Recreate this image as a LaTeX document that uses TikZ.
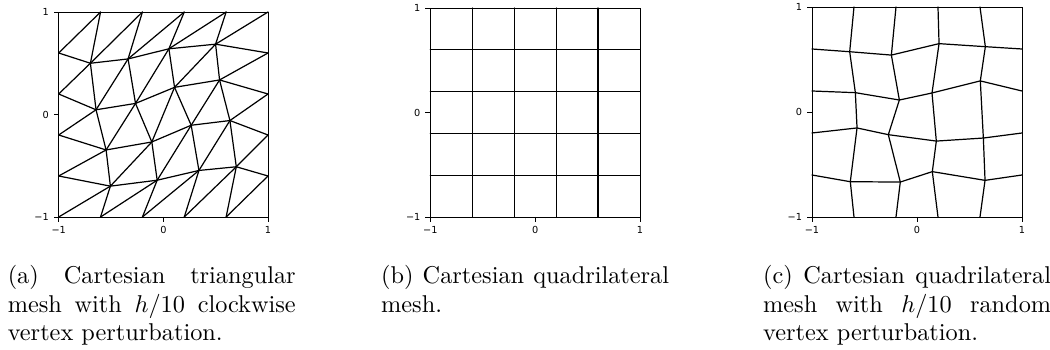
\documentclass[tikz,border=0pt]{standalone}
\usepackage{fontspec}
\newfontfamily\tickfont{DejaVu Sans}
\tolerance=10000 \pretolerance=10000 \hbadness=10000
\newcommand{\axesticks}{%
  \foreach \v/\t in {-1/−1,0/0,1/1} {
    \draw[tickline] (-1,\v) -- ++(-2.06pt,0pt);
    \node[ticklab, anchor=east, xshift=-3.9pt] at (-1,\v) {\t};
    \draw[tickline] (\v,-1) -- ++(0pt,-2.06pt);
    \node[ticklab, anchor=north, yshift=-3.5pt] at (\v,-1) {\t};
  }}
\begin{document}
\begin{tikzpicture}[x=0.41152pt,y=-0.41152pt,
  mesh/.style={line width=0.5pt, black, line join=round, line cap=round},
  frame/.style={line width=0.4pt, black},
  tickline/.style={line width=0.4pt, black},
  ticklab/.style={font=\tickfont\fontsize{4pt}{5pt}\selectfont, inner sep=0pt},
  capbox/.style={text width=118.5pt, align=justify, inner sep=0pt, anchor=north west,
    font=\fontsize{10pt}{11.7pt}\selectfont}]
\useasboundingbox (0,0) rectangle (1050,350);

% ---------- panel (a) ----------
\begin{scope}[shift={(163.35,114.5)}, x={(43.07pt,0pt)}, y={(0pt,42.18pt)}]
  \foreach \i/\x in {0/-1,1/-0.6,2/-0.2,3/0.2,4/0.6,5/1} {
    \coordinate (a\i0) at (\x,-1); \coordinate (a\i5) at (\x,1); }
  \foreach \j/\y in {1/-0.6,2/-0.2,3/0.2,4/0.6} {
    \coordinate (a0\j) at (-1,\y); \coordinate (a5\j) at (1,\y); }
  \coordinate (a14) at (-0.697,0.500); \coordinate (a24) at (-0.337,0.542);
  \coordinate (a34) at (0.053,0.641);  \coordinate (a44) at (0.499,0.686);
  \coordinate (a13) at (-0.643,0.046); \coordinate (a23) at (-0.266,0.108);
  \coordinate (a33) at (0.107,0.265);  \coordinate (a43) at (0.537,0.337);
  \coordinate (a12) at (-0.547,-0.346); \coordinate (a22) at (-0.110,-0.268);
  \coordinate (a32) at (0.266,-0.105);  \coordinate (a42) at (0.636,-0.059);
  \coordinate (a11) at (-0.506,-0.699); \coordinate (a21) at (-0.059,-0.641);
  \coordinate (a31) at (0.340,-0.546);  \coordinate (a41) at (0.697,-0.510);
  \foreach \j in {1,...,4} \draw[mesh] (a0\j) -- (a1\j) -- (a2\j) -- (a3\j) -- (a4\j) -- (a5\j);
  \foreach \i in {1,...,4} \draw[mesh] (a\i0) -- (a\i1) -- (a\i2) -- (a\i3) -- (a\i4) -- (a\i5);
  \foreach \i in {0,...,4} \foreach \j in {0,...,4} {
    \pgfmathtruncatemacro\ii{\i+1}\pgfmathtruncatemacro\jj{\j+1}
    \draw[mesh] (a\i\j) -- (a\ii\jj); }
  \draw[frame] (a00) rectangle (a55);
  \axesticks
\end{scope}

% ---------- panel (b) ----------
\begin{scope}[shift={(535.15,112.5)}, x={(43.15pt,0pt)}, y={(0pt,43.0pt)}]
  \foreach \i/\x in {0/-1,1/-0.6,2/-0.2,3/0.2,4/0.6,5/1} {
    \coordinate (b\i0) at (\x,-1); \coordinate (b\i5) at (\x,1); }
  \foreach \j/\y in {1/-0.6,2/-0.2,3/0.2,4/0.6} {
    \coordinate (b0\j) at (-1,\y); \coordinate (b5\j) at (1,\y); }
  \foreach \j in {1,...,4} \draw[mesh] (b0\j) -- (b5\j);
  \foreach \i in {1,...,4} \draw[mesh] (b\i0) -- (b\i5);
  \draw[frame] (b00) rectangle (b55);
  \axesticks
\end{scope}

% ---------- panel (c) ----------
\begin{scope}[shift={(917,112)}, x={(43.21pt,0pt)}, y={(0pt,43.21pt)}]
  \foreach \i/\x in {0/-1,1/-0.6,2/-0.2,3/0.2,4/0.6,5/1} {
    \coordinate (c\i0) at (\x,-1); \coordinate (c\i5) at (\x,1); }
  \foreach \j/\y in {1/-0.6,2/-0.2,3/0.2,4/0.6} {
    \coordinate (c0\j) at (-1,\y); \coordinate (c5\j) at (1,\y); }
  \coordinate (c14) at (-0.641,0.574); \coordinate (c24) at (-0.244,0.542);
  \coordinate (c34) at (0.210,0.651);  \coordinate (c44) at (0.651,0.622);
  \coordinate (c13) at (-0.587,0.184); \coordinate (c23) at (-0.168,0.114);
  \coordinate (c33) at (0.143,0.181);  \coordinate (c43) at (0.603,0.296);
  \coordinate (c12) at (-0.571,-0.152); \coordinate (c22) at (-0.273,-0.216);
  \coordinate (c32) at (0.184,-0.277);  \coordinate (c42) at (0.632,-0.248);
  \coordinate (c11) at (-0.635,-0.664); \coordinate (c21) at (-0.159,-0.667);
  \coordinate (c31) at (0.146,-0.568);  \coordinate (c41) at (0.648,-0.651);
  \foreach \j in {1,...,4} \draw[mesh] (c0\j) -- (c1\j) -- (c2\j) -- (c3\j) -- (c4\j) -- (c5\j);
  \foreach \i in {1,...,4} \draw[mesh] (c\i0) -- (c\i1) -- (c\i2) -- (c\i3) -- (c\i4) -- (c\i5);
  \draw[frame] (c00) rectangle (c55);
  \axesticks
\end{scope}

% ---------- captions ----------
\node[capbox] (capa) at (7.3,265) {\noindent(a) Cartesian triangular mesh with $h/10$ clockwise vertex perturbation.};
\node[capbox] (capb) at (380.7,265) {\noindent(b) Cartesian quadrilateral mesh.};
\node[capbox] (capc) at (762.7,265) {\noindent(c) Cartesian quadrilateral mesh with $h/10$ random vertex perturbation.};
\end{tikzpicture}
\end{document}
